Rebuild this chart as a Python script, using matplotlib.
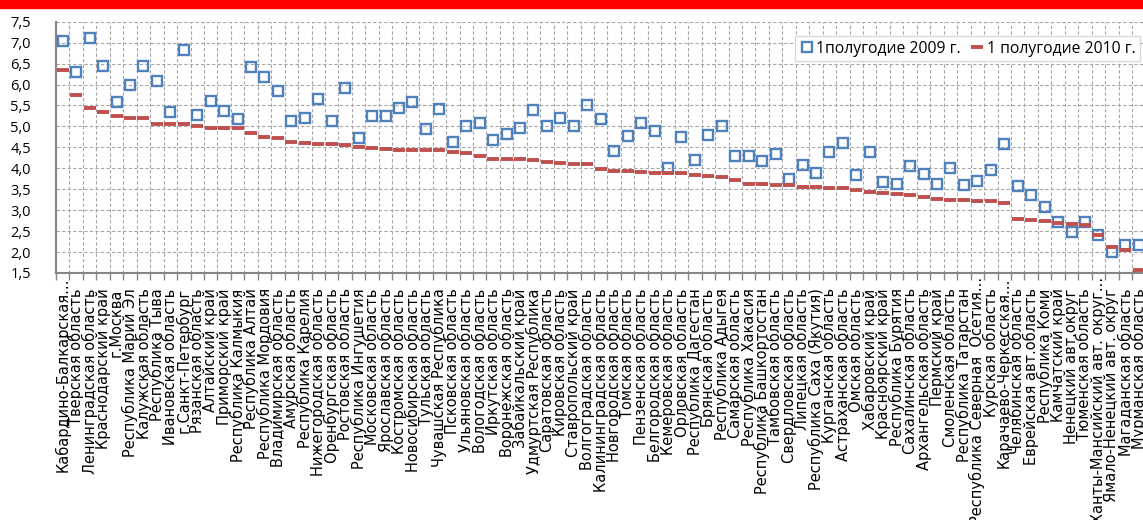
import numpy as np
import matplotlib
matplotlib.use('Agg')
import matplotlib.pyplot as plt
from matplotlib.patches import Rectangle
from matplotlib.ticker import FuncFormatter
from matplotlib.transforms import ScaledTranslation

regions = [
    'Кабардино-Балкарская...', 'Тверская область', 'Ленинградская область',
    'Краснодарский край', 'г.Москва', 'Республика Марий Эл', 'Калужская область',
    'Республика Тыва', 'Ивановская область', 'г.Санкт-Петербург', 'Рязанская область',
    'Алтайский край', 'Приморский край', 'Республика Калмыкия', 'Республика Алтай',
    'Республика Мордовия', 'Владимирская область', 'Амурская область',
    'Республика Карелия', 'Нижегородская область', 'Оренбургская область',
    'Ростовская область', 'Республика Ингушетия', 'Московская область',
    'Ярославская область', 'Костромская область', 'Новосибирская область',
    'Тульская область', 'Чувашская Республика', 'Псковская область',
    'Ульяновская область', 'Вологодская область', 'Иркутская область',
    'Воронежская область', 'Забайкальский край', 'Удмуртская Республика',
    'Саратовская область', 'Кировская область', 'Ставропольский край',
    'Волгоградская область', 'Калининградская область', 'Новгородская область',
    'Томская область', 'Пензенская область', 'Белгородская область',
    'Кемеровская область', 'Орловская область', 'Республика Дагестан',
    'Брянская область', 'Республика Адыгея', 'Самарская область',
    'Республика Хакасия', 'Республика Башкортостан', 'Тамбовская область',
    'Свердловская область', 'Липецкая область', 'Республика Саха (Якутия)',
    'Курганская область', 'Астраханская область', 'Омская область',
    'Хабаровский край', 'Красноярский край', 'Республика Бурятия',
    'Сахалинская область', 'Архангельская область', 'Пермский край',
    'Смоленская область', 'Республика Татарстан', 'Республика Северная  Осетия...',
    'Курская область', 'Карачаево-Черкесская...', 'Челябинская область',
    'Еврейская авт.область', 'Республика Коми', 'Камчатский край',
    'Ненецкий авт.округ', 'Тюменская область', 'Ханты-Мансийский авт. округ...',
    'Ямало-Ненецкий авт. округ', 'Магаданская область', 'Мурманская область',
]

h1_2009 = [
    7.05, 6.29, 7.10, 6.45, 5.58, 6.00, 6.45, 6.09, 5.35, 6.83,
    5.27, 5.60, 5.37, 5.17, 6.43, 6.17, 5.85, 5.13, 5.21, 5.66,
    5.14, 5.92, 4.72, 5.25, 5.26, 5.45, 5.59, 4.93, 5.42, 4.63,
    5.02, 5.08, 4.67, 4.83, 4.96, 5.39, 5.02, 5.21, 5.01, 5.52,
    5.18, 4.42, 4.78, 5.07, 4.90, 4.01, 4.74, 4.20, 4.80, 5.02,
    4.30, 4.29, 4.17, 4.34, 3.75, 4.08, 3.89, 4.40, 4.60, 3.85,
    4.40, 3.67, 3.63, 4.05, 3.87, 3.63, 4.00, 3.61, 3.70, 3.97,
    4.57, 3.58, 3.37, 3.07, 2.71, 2.48, 2.72, 2.40, 2.01, 2.16, 2.18,
]

h1_2010 = [
    6.34, 5.75, 5.44, 5.35, 5.24, 5.21, 5.19, 5.06, 5.05, 5.05,
    5.00, 4.96, 4.96, 4.96, 4.85, 4.74, 4.72, 4.63, 4.60, 4.58,
    4.57, 4.56, 4.50, 4.48, 4.46, 4.44, 4.44, 4.44, 4.44, 4.40,
    4.37, 4.29, 4.23, 4.22, 4.21, 4.20, 4.16, 4.13, 4.11, 4.11,
    3.99, 3.94, 3.93, 3.92, 3.89, 3.88, 3.88, 3.83, 3.82, 3.79,
    3.71, 3.63, 3.63, 3.60, 3.59, 3.56, 3.55, 3.53, 3.52, 3.48,
    3.44, 3.42, 3.38, 3.36, 3.31, 3.27, 3.25, 3.24, 3.23, 3.22,
    3.18, 2.80, 2.76, 2.74, 2.69, 2.67, 2.64, 2.40, 2.13, 2.05, 1.56,
]

W, H = 1143, 520
fig = plt.figure(figsize=(W / 100, H / 100), dpi=100)
# red strip along the top
fig.patches.append(Rectangle((0, 1 - 8 / H), 1, 8 / H, transform=fig.transFigure,
                             color='#FF0000', zorder=0))

ax = fig.add_axes([56 / W, (H - 273) / H, 1089.5 / W, (273 - 21.7) / H])
x = np.arange(len(regions))

ax.plot(x, h1_2009, ls='none', marker='s', ms=7.5, mfc='none', mec='#4F81BD',
        mew=1.7, label='1полугодие 2009 г.', zorder=3)
ax.plot(x, h1_2010, ls='none', marker='_', ms=9, mew=2.8, color='#C0504D',
        label='1 полугодие 2010 г.', zorder=4)

ax.set_xlim(-0.5, len(regions) - 0.5)
ax.set_ylim(1.5, 7.5)
ax.set_yticks(np.arange(1.5, 7.51, 0.5))
ax.yaxis.set_major_formatter(FuncFormatter(lambda v, p: f'{v:.1f}'.replace('.', ',')))

ax.set_xticks(np.arange(-0.5, len(regions), 1))
ax.set_xticklabels([])
ax.set_xticks(x, minor=True)
ax.set_xticklabels(regions, minor=True, rotation=90, va='top', ha='center',
                   fontsize=10.5, family='DejaVu Sans')

ax.grid(True, which='major', ls=(0, (3, 2)), color='#a6a6a6', lw=0.8)
ax.tick_params(axis='x', which='major', length=5, width=1, color='#868686', direction='out')
ax.tick_params(axis='x', which='minor', length=0, pad=11)
ax.tick_params(axis='y', length=0, pad=18, labelsize=10.5)
for lab in ax.get_yticklabels():
    lab.set_family('Open Sans')

# shortened names sit a little higher
for lab in ax.get_xticklabels(minor=True):
    if lab.get_text().endswith('...'):
        lab.set_transform(lab.get_transform() + ScaledTranslation(0, 11 / 100, fig.dpi_scale_trans))

for s in ('top', 'right'):
    ax.spines[s].set_visible(False)
for s in ('left', 'bottom'):
    ax.spines[s].set_color('#868686')
    ax.spines[s].set_linewidth(1.5)

ax.legend(loc='upper right', bbox_to_anchor=(1140 / W, 1 - 36 / H),
          bbox_transform=fig.transFigure, ncol=2, frameon=True, fancybox=False,
          edgecolor='#d9d9d9', framealpha=1, handlelength=0.9, handletextpad=0.15,
          columnspacing=0.6, borderpad=0.3, borderaxespad=0,
          prop={'family': 'Open Sans', 'size': 11.3})

fig.savefig('out.png', dpi=100)
